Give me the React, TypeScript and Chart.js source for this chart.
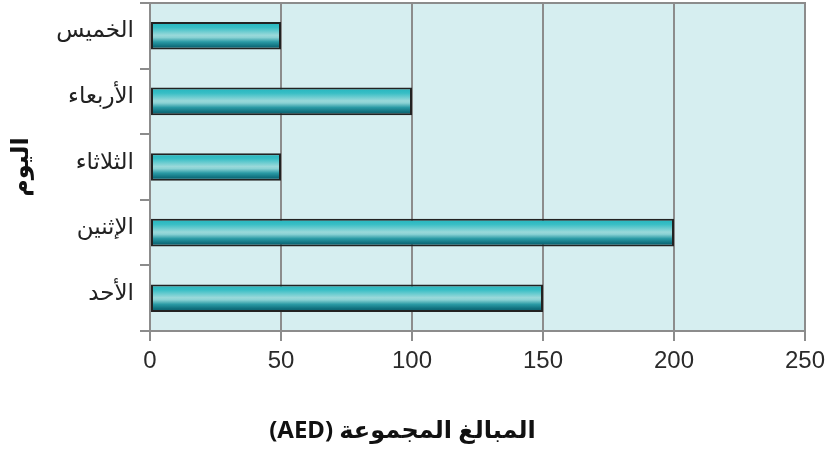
import React, { useEffect, useRef } from "react";
import { Chart, registerables } from "chart.js";

Chart.register(...registerables);

const categories: string[] = ["الخميس", "الأربعاء", "الثلاثاء", "الإثنين", "الأحد"];
const amounts: number[] = [50, 100, 50, 200, 150];
const xTicks: number[] = [0, 50, 100, 150, 200, 250];
const xTitle = "المبالغ المجموعة (AED)";
const yTitle = "اليوم";

const GRID = "#8c8c8c";
const PLOT_BG = "#d6eef0";
const ARABIC = "'Noto Sans', 'DejaVu Sans', sans-serif";

const plotFrame = {
  id: "plotFrame",
  beforeDraw(chart: any) {
    const { ctx, chartArea: a } = chart;
    ctx.save();
    ctx.fillStyle = PLOT_BG;
    ctx.fillRect(a.left, a.top, a.right - a.left, a.bottom - a.top);
    ctx.restore();
  },
  afterDatasetsDraw(chart: any) {
    const { ctx, chartArea: a } = chart;
    ctx.save();
    ctx.strokeStyle = GRID;
    ctx.lineWidth = 2;
    ctx.beginPath();
    ctx.moveTo(a.left, a.top);
    ctx.lineTo(a.right, a.top);
    ctx.lineTo(a.right, a.bottom);
    ctx.stroke();
    ctx.restore();
  },
};

export default function App() {
  const ref = useRef<HTMLCanvasElement | null>(null);
  useEffect(() => {
    document.body.style.margin = "0";
    if (!ref.current) return;
    const chart = new Chart(ref.current, {
      type: "bar",
      data: {
        labels: categories,
        datasets: [
          {
            data: amounts,
            borderColor: "#222222",
            borderWidth: 2,
            borderSkipped: false,
            categoryPercentage: 1,
            barPercentage: 0.42,
            backgroundColor: (c: any) => {
              const chartObj = c.chart;
              const ys = chartObj.scales?.y;
              if (!ys || c.dataIndex === undefined) return "#3bbcc4";
              const yc = ys.getPixelForValue(c.dataIndex);
              const step = (ys.bottom - ys.top) / categories.length;
              const h = step * 0.21;
              if (!isFinite(yc) || !isFinite(h) || h <= 0) return "#3bbcc4";
              const g = chartObj.ctx.createLinearGradient(0, yc - h, 0, yc + h);
              g.addColorStop(0, "#22b4bd");
              g.addColorStop(0.2, "#38bec5");
              g.addColorStop(0.48, "#9ad9da");
              g.addColorStop(0.56, "#8ad2d4");
              g.addColorStop(0.72, "#2a9aa5");
              g.addColorStop(0.88, "#0f6f7d");
              g.addColorStop(1, "#0a5a68");
              return g;
            },
          },
        ],
      },
      options: {
        indexAxis: "y",
        responsive: true,
        maintainAspectRatio: false,
        animation: false,
        layout: { padding: { top: 3, right: 25, left: 0, bottom: 0 } },
        plugins: {
          legend: { display: false },
          tooltip: { enabled: false },
          title: {
            display: true,
            position: "bottom",
            text: xTitle,
            color: "#111",
            padding: { top: 0, bottom: 6 },
            font: { family: ARABIC, size: 24, weight: "bold", lineHeight: 1.2 },
          },
        },
        scales: {
          x: {
            min: 0,
            max: 250,
            afterBuildTicks: (s: any) => {
              s.ticks = xTicks.map((v) => ({ value: v }));
            },
            afterFit: (s: any) => {
              s.height = 121 - (24 * 1.2 + 6);
              s.paddingLeft = 0;
              s.paddingRight = 0;
            },
            grid: {
              color: GRID,
              lineWidth: 2,
              tickLength: 10,
              drawOnChartArea: true,
            },
            border: { color: GRID, width: 2 },
            ticks: {
              color: "#2a2a2a",
              padding: 6,
              maxRotation: 0,
              font: { family: "'Liberation Sans', Arial, sans-serif", size: 24 },
            },
          },
          y: {
            afterFit: (s: any) => {
              s.width = 150;
              s.paddingTop = 0;
              s.paddingBottom = 0;
            },
            grid: {
              offset: true,
              drawOnChartArea: false,
              color: GRID,
              lineWidth: 2,
              tickLength: 10,
            },
            border: { color: GRID, width: 2 },
            ticks: {
              color: "#222",
              padding: 6,
              labelOffset: -5,
              font: { family: ARABIC, size: 23 },
            },
            title: {
              display: true,
              text: yTitle,
              color: "#111",
              padding: { top: 7, bottom: 0 },
              font: { family: ARABIC, size: 24, weight: "bold", lineHeight: 1.2 },
            },
          },
        },
      },
      plugins: [plotFrame],
    } as any);
    return () => chart.destroy();
  }, []);
  return (
    <div style={{ position: "relative", width: 830, height: 452 }}>
      <canvas ref={ref} dir="rtl" />
    </div>
  );
}
